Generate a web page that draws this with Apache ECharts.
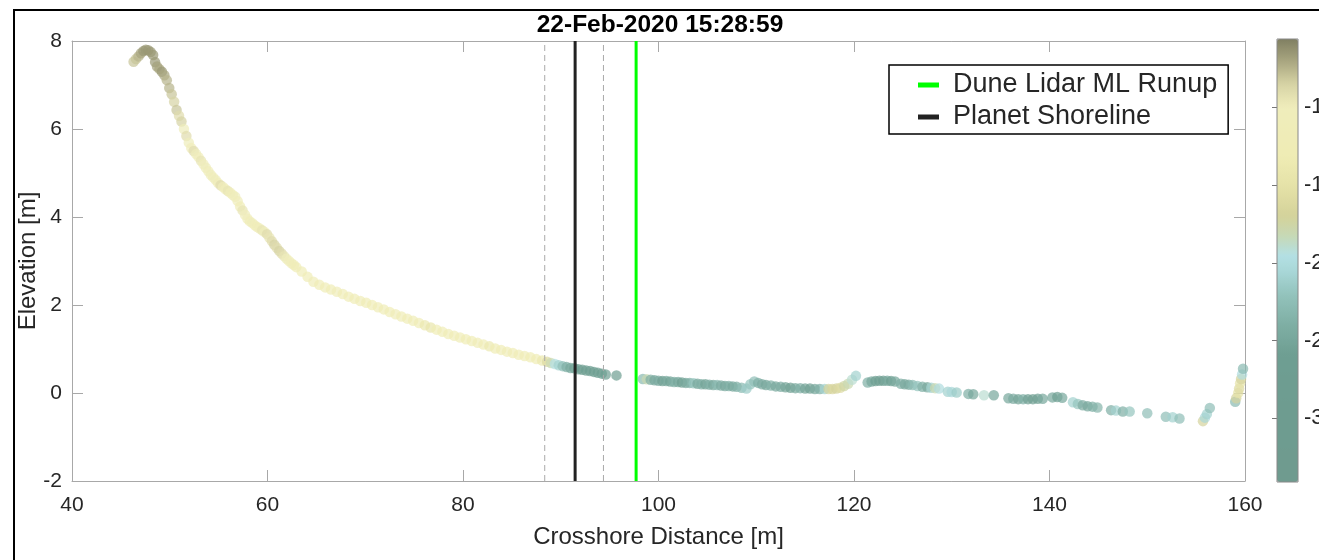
<!DOCTYPE html>
<html>
<head>
<meta charset="utf-8">
<script src="https://cdn.jsdelivr.net/npm/echarts@6/dist/echarts.min.js"></script>
<style>html,body{margin:0;padding:0;background:#fff}#c{width:1319px;height:560px}</style>
</head>
<body>
<div id="c"></div>
<script>
// ---- data ----
const titleText = '22-Feb-2020 15:28:59';
const xTicks = [40, 60, 80, 100, 120, 140, 160];
const yTicks = [-2, 0, 2, 4, 6, 8];
const colorTicks = [-30, -25, -20, -15, -10];
const colorRange = [-34.1, -5.6];
const runupX = 97.71;
const shorelineX = 91.47;
const shorelineBand = [88.36, 94.37];

// cross-shore distance [m]
const profileX = [
 46.3,46.55,46.8,47.05,47.3,47.55,47.8,48.05,48.3,48.5,48.7,48.95,49.2,49.45,49.7,49.95,50.2,50.45,50.7,50.95,
 51.2,51.45,51.7,51.95,52.2,52.45,52.7,52.95,53.2,53.45,53.7,53.95,54.2,54.45,54.7,54.95,55.2,55.45,55.7,55.95,
 56.2,56.45,56.7,56.95,57.2,57.45,57.7,57.95,58.2,58.45,58.7,58.95,59.2,59.45,59.7,59.95,60.2,60.45,60.7,60.95,
 61.2,61.45,61.7,61.95,62.2,62.45,62.7,62.95,
 63.5,64.1,64.7,65.3,65.9,66.5,67.1,67.7,68.3,68.9,69.5,70.1,70.7,71.3,71.9,72.5,73.1,73.7,74.3,74.9,
 75.5,76.1,76.7,77.3,77.9,78.5,79.1,79.7,80.3,80.9,81.5,82.1,82.7,83.3,83.9,84.5,85.1,85.7,86.3,86.9,
 87.5,88.1,88.6,89.0,89.4,89.8,90.2,90.6,91.0,91.4,91.8,92.2,92.6,93.0,93.4,93.8,94.2,94.6,95.7,
 98.4,98.8,99.2,99.6,100.0,100.4,100.8,101.2,101.6,102.0,102.4,102.8,103.2,103.6,104.0,104.4,104.8,105.2,105.6,106.0,
 106.4,106.8,107.2,107.6,108.0,108.5,109.0,109.4,109.8,110.2,110.6,111.0,111.5,112.0,112.5,113.0,113.5,114.0,114.5,115.0,
 115.5,116.0,116.5,117.0,117.4,117.8,118.2,118.6,119.0,119.4,119.8,120.2,
 121.4,121.8,122.2,122.6,123.0,123.4,123.8,124.2,124.8,125.2,125.6,126.0,126.5,127.0,127.5,127.9,128.3,128.7,129.6,130.0,
 130.5,131.7,132.2,133.3,134.3,135.8,136.3,136.8,137.3,137.8,138.3,138.8,139.3,140.3,140.8,141.3,142.4,142.9,143.4,143.9,
 144.4,144.9,146.3,146.8,147.5,148.2,150.0,151.9,152.6,153.3,155.7,155.9,156.1,156.4,159.0,159.1,159.3,159.4,159.5,159.6,
 159.7,159.8
];
// elevation [m]
const profileZ = [
 7.53,7.59,7.65,7.72,7.77,7.80,7.79,7.75,7.68,7.52,7.42,7.36,7.30,7.22,7.11,6.93,6.79,6.62,6.43,6.30,
 6.17,6.00,5.84,5.69,5.57,5.50,5.43,5.36,5.28,5.20,5.12,5.04,4.96,4.90,4.84,4.77,4.72,4.68,4.63,4.59,
 4.55,4.50,4.46,4.36,4.24,4.15,4.05,3.96,3.90,3.86,3.81,3.77,3.74,3.70,3.66,3.61,3.53,3.45,3.37,3.30,
 3.23,3.17,3.11,3.05,3.00,2.95,2.91,2.86,
 2.76,2.64,2.53,2.46,2.40,2.35,2.30,2.25,2.19,2.14,2.09,2.05,2.00,1.95,1.90,1.84,1.79,1.74,1.69,1.64,
 1.59,1.54,1.49,1.44,1.39,1.34,1.30,1.26,1.22,1.18,1.14,1.10,1.06,1.01,0.98,0.94,0.91,0.87,0.84,0.81,
 0.77,0.74,0.71,0.68,0.66,0.63,0.61,0.59,0.57,0.56,0.54,0.53,0.51,0.50,0.48,0.46,0.44,0.42,0.40,
 0.32,0.31,0.30,0.29,0.28,0.27,0.27,0.26,0.25,0.25,0.24,0.23,0.23,0.22,0.21,0.20,0.20,0.19,0.18,0.18,
 0.17,0.16,0.16,0.15,0.14,0.12,0.10,0.20,0.26,0.23,0.20,0.18,0.17,0.15,0.14,0.13,0.12,0.11,0.11,0.10,
 0.10,0.09,0.09,0.09,0.09,0.09,0.10,0.12,0.16,0.21,0.30,0.39,
 0.24,0.26,0.27,0.28,0.28,0.28,0.27,0.26,0.21,0.20,0.19,0.18,0.16,0.14,0.13,0.12,0.11,0.10,0.03,0.02,
 0.01,-0.02,-0.03,-0.05,-0.05,-0.12,-0.13,-0.14,-0.14,-0.14,-0.14,-0.13,-0.13,-0.10,-0.09,-0.11,-0.21,-0.25,-0.28,-0.30,
 -0.31,-0.33,-0.39,-0.40,-0.42,-0.42,-0.46,-0.54,-0.55,-0.58,-0.64,-0.56,-0.48,-0.34,-0.20,-0.12,0.00,0.10,0.22,0.32,
 0.42,0.55
];
// colour variable (colour bar units)
const profileC = [
 -8,-8,-7.5,-7,-6.5,-6.5,-6.5,-6.5,-6.5,-6.5,-6.8,-7,-6.5,-7,-7.5,-7.5,-8,-8.5,-8,-9,
 -8.5,-10,-9,-10,-10.5,-9,-10,-10.5,-9.5,-10.5,-10,-11,-10,-11,-10,-11,-9,-10.5,-11,-9.5,
 -11,-11.5,-10,-11,-11.5,-9.5,-10.5,-11,-11.5,-10,-11,-11.5,-10.5,-9.5,-10,-9,-9.5,-9,-8.5,-9,
 -8.5,-9,-9.5,-10,-10.5,-11,-11.5,-12,
 -12,-12,-11.5,-12,-12.5,-12,-11,-12,-12.5,-12,-11.5,-12,-13,-12,-12.5,-12,-11.5,-12,-12.5,-12,
 -12,-14,-14.5,-13,-12.5,-12,-12,-12.5,-13,-12,-12.5,-12,-14,-13,-12.5,-12,-12.5,-12,-12.5,-13,
 -13,-14,-16,-18,-19.5,-21,-22.5,-24,-25,-25.5,-26,-26,-26.5,-26,-26.5,-27,-27,-27,-27,
 -23,-18,-24,-25,-24.5,-26,-25,-25.5,-24,-25,-26,-25,-24,-22,-25,-24,-25.5,-24,-25,-23,
 -24.5,-25,-24,-25,-24,-23,-21.5,-22,-22.5,-24,-24.5,-25,-24,-25,-24.5,-25.5,-26,-25,-24,-25.5,
 -26,-25,-24,-21,-17,-16.5,-17,-16,-17.5,-18,-19,-21,
 -24,-25,-26,-26.5,-26,-25,-26,-25,-24,-25,-24.5,-23,-22,-24,-25,-21,-18,-20,-21,-20.5,
 -21.5,-24,-25,-19,-25,-25,-24.5,-25.5,-24,-26,-27,-26,-25,-25,-26,-25,-21,-22,-24.5,-25,
 -24,-23.5,-24,-21,-24,-22,-22.5,-22.5,-21,-22.5,-17,-20.5,-21,-22.5,-23,-17,-15,-16,-15,-17,
 -20,-23
];

// ---- styling helpers ----
const FONT = '"Liberation Sans", Arial, Helvetica, sans-serif';
const TXT = '#262626';
const AXC = '#a8a8a8';
const cmapStops = [[-34.1,'#6f9b8f'],[-30,'#6e9c90'],[-26,'#6e9e92'],[-24,'#7eaea3'],[-22,'#93c3bd'],
  [-20.5,'#a9d8d8'],[-19.5,'#b4e0e4'],[-18.3,'#c6d9b6'],[-17,'#d4d29a'],[-15,'#e6e3a8'],[-13,'#efecb5'],
  [-10,'#efedbb'],[-8.5,'#d6d3a5'],[-7,'#a8a57f'],[-5.6,'#807f62']];
function hex2rgb(h){return [parseInt(h.slice(1,3),16),parseInt(h.slice(3,5),16),parseInt(h.slice(5,7),16)];}
function cmapAt(v){
  for(let i=0;i<cmapStops.length-1;i++){
    const [v0,c0]=cmapStops[i],[v1,c1]=cmapStops[i+1];
    if(v>=v0&&v<=v1){const t=(v-v0)/(v1-v0);const a=hex2rgb(c0),b=hex2rgb(c1);
      return 'rgb('+a.map((x,k)=>Math.round(x+(b[k]-x)*t)).join(',')+')';}
  }
  return v<cmapStops[0][0]?cmapStops[0][1]:cmapStops[cmapStops.length-1][1];
}
const NC=120, cmapColors=[];
for(let i=0;i<NC;i++){cmapColors.push(cmapAt(colorRange[0]+(colorRange[1]-colorRange[0])*i/(NC-1)));}

const scatterData = profileX.map((x,i)=>[x, profileZ[i], profileC[i]]);
const vline = x => [[x, yTicks[0]],[x, yTicks[yTicks.length-1]]];

const chart = echarts.init(document.getElementById('c'), null, {renderer:'canvas'});
const axisCommon = {
  type:'value', axisLine:{show:true,onZero:false,lineStyle:{color:AXC,width:1}},
  axisTick:{show:true,inside:true,length:11,lineStyle:{color:AXC}},
  splitLine:{show:false}
};
chart.setOption({
  animation:false,
  backgroundColor:'#fff',
  title:{text:titleText,left:655,textAlign:'center',top:8,textStyle:{fontFamily:FONT,fontWeight:'bold',fontSize:24.5,color:'#000'}},
  grid:[
    {left:72,right:74,top:41,bottom:79,outerBoundsMode:'none'},
    {left:1277,width:21,top:39,height:443,outerBoundsMode:'none'}
  ],
  xAxis:[
    Object.assign({},axisCommon,{gridIndex:0,min:xTicks[0],max:xTicks[xTicks.length-1],interval:20,position:'bottom',
      axisLabel:{margin:14,fontFamily:FONT,fontSize:21,color:TXT},
      name:'Crosshore Distance [m]',nameLocation:'middle',nameGap:44,nameMoveOverlap:false,
      nameTextStyle:{fontFamily:FONT,fontSize:24,color:TXT}}),
    Object.assign({},axisCommon,{gridIndex:0,min:xTicks[0],max:xTicks[xTicks.length-1],interval:20,position:'top',axisLabel:{show:false}}),
    {gridIndex:1,type:'value',show:false,min:0,max:1}
  ],
  yAxis:[
    Object.assign({},axisCommon,{gridIndex:0,min:yTicks[0],max:yTicks[yTicks.length-1],interval:2,position:'left',
      axisLabel:{margin:10,fontFamily:FONT,fontSize:21,color:TXT},
      name:'Elevation [m]',nameLocation:'middle',nameGap:32,nameMoveOverlap:false,
      nameTextStyle:{fontFamily:FONT,fontSize:24,color:TXT}}),
    Object.assign({},axisCommon,{gridIndex:0,min:yTicks[0],max:yTicks[yTicks.length-1],interval:2,position:'right',axisLabel:{show:false}}),
    {gridIndex:1,type:'value',min:colorRange[0],max:colorRange[1],position:'right',
      axisLine:{show:false},splitLine:{show:false},
      axisTick:{show:true,inside:true,length:5,lineStyle:{color:'#777'},customValues:colorTicks},
      axisLabel:{show:false}}
  ],
  visualMap:{
    type:'continuous',seriesIndex:0,dimension:2,min:colorRange[0],max:colorRange[1],
    calculable:false,hoverLink:false,left:1277,top:39,itemWidth:21,itemHeight:443,padding:0,
    text:null,showLabel:false,inRange:{color:cmapColors}
  },
  legend:{
    data:['Dune Lidar ML Runup','Planet Shoreline'],orient:'vertical',left:889,top:65,
    padding:[5,11,2,29],itemGap:2,itemWidth:21,itemHeight:5,icon:'rect',
    backgroundColor:'#fff',borderColor:'#000',borderWidth:1.5,borderRadius:0,
    textStyle:{fontFamily:FONT,fontSize:27,color:TXT,padding:[0,0,0,9],lineHeight:30}
  },
  series:[
    {type:'scatter',name:'profile',xAxisIndex:0,yAxisIndex:0,data:scatterData,symbolSize:10.5,
      itemStyle:{opacity:0.7},z:2},
    {type:'line',name:'Dune Lidar ML Runup',data:vline(runupX),symbol:'none',
      lineStyle:{color:'#00ff00',width:3},itemStyle:{color:'#00ff00'},z:4},
    {type:'line',name:'Planet Shoreline',data:vline(shorelineX),symbol:'none',
      lineStyle:{color:'#222222',width:3},itemStyle:{color:'#222222'},z:4},
    {type:'line',name:'band1',data:vline(shorelineBand[0]),symbol:'none',
      lineStyle:{color:'#aaaaaa',width:1,type:[6,4]},z:3},
    {type:'line',name:'band2',data:vline(shorelineBand[1]),symbol:'none',
      lineStyle:{color:'#aaaaaa',width:1,type:[6,4]},z:3}
  ]
});
// colour-bar tick labels, placed through the colour-bar axis scale
const cbLabels = colorTicks.map(v => {
  const px = chart.convertToPixel({gridIndex:1}, [0, v]);
  const yPos = Array.isArray(px) ? px[1] : chart.convertToPixel({yAxisIndex:2}, v);
  return {type:'text',x:1304,y:yPos,silent:true,z:100,
    style:{text:String(v),fontFamily:FONT,fontSize:22,fill:TXT,verticalAlign:'middle',align:'left'}};
});
chart.setOption({graphic:[
  {type:'rect',shape:{x:14,y:10,width:1400,height:700},style:{fill:'none',stroke:'#000',lineWidth:2},silent:true,z:100},
  {type:'rect',shape:{x:1277,y:39,width:21,height:443},style:{fill:'none',stroke:'#888',lineWidth:1},silent:true,z:100}
].concat(cbLabels)}, {replaceMerge:['graphic']});
</script>
</body>
</html>
